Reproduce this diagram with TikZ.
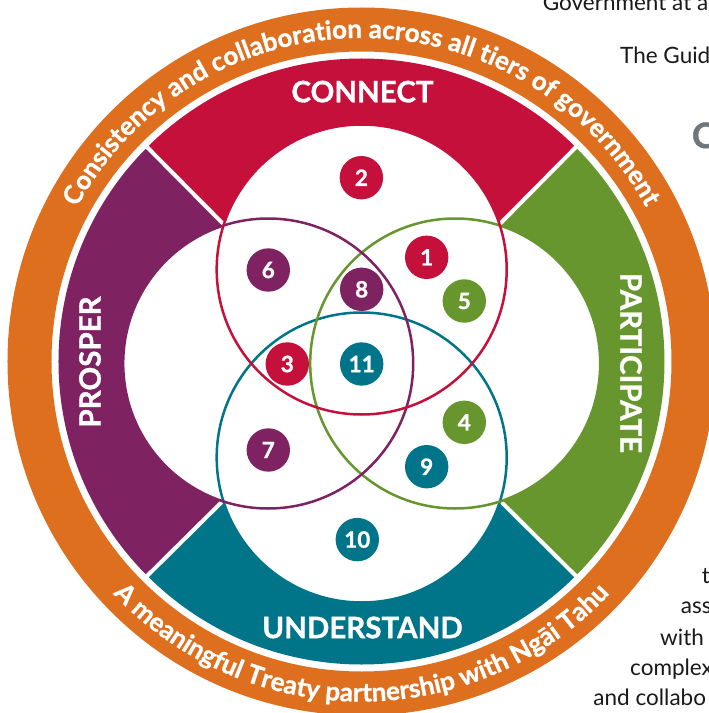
\documentclass[tikz,border=0pt]{standalone}
\usepackage{fontspec}
\setmainfont{Lato}[BoldFeatures={FakeBold=1}]
\usetikzlibrary{decorations.text}
\definecolor{cred}{HTML}{C4103A}
\definecolor{cpurple}{HTML}{7E2262}
\definecolor{cgreen}{HTML}{67962F}
\definecolor{cteal}{HTML}{00758A}
\definecolor{corange}{HTML}{DD6F1F}
\definecolor{cgrey}{HTML}{6E787C}
\definecolor{ctext}{HTML}{1A1A1A}
\newcommand\ringfont{\fontsize{26}{26}\selectfont\bfseries\color{white}}
\begin{document}
\begin{tikzpicture}[x=1pt,y=1pt,
  badge/.style={circle, fill=#1, text=white, minimum size=43.4pt, inner sep=0pt,
    font=\fontsize{22.5}{22.5}\selectfont\bfseries},
  bandlabel/.style={text=white, inner sep=0pt, font=\fontsize{29.5}{29.5}\selectfont\bfseries},
  venn/.style={draw=#1, line width=2.5pt},
  separator/.style={draw=white, line width=4pt},
  pagetext/.style={anchor=base west, inner sep=0pt, text=ctext, font=\fontsize{22.5}{22.5}\selectfont}]
\useasboundingbox (-361.5pt,-351.5pt) rectangle (347.5pt,361.5pt);
\clip (-361.5pt,-351.5pt) rectangle (347.5pt,361.5pt);
\fill[white] (-361.5pt,-351.5pt) rectangle (347.5pt,361.5pt);
% outer orange ring
\fill[corange, even odd rule] (0,0) circle[radius=354pt] (0,0) circle[radius=310pt];
% coloured sectors
\fill[cred] (0,0) -- (45:303pt) arc[start angle=45, end angle=135, radius=303pt] -- cycle;
\fill[cpurple] (0,0) -- (135:303pt) arc[start angle=135, end angle=225, radius=303pt] -- cycle;
\fill[cteal] (0,0) -- (225:303pt) arc[start angle=225, end angle=315, radius=303pt] -- cycle;
\fill[cgreen] (0,0) -- (315:303pt) arc[start angle=315, end angle=405, radius=303pt] -- cycle;
% Venn centres
\coordinate (vc) at (0.2pt,-2pt);
\coordinate (ctop) at (0.2pt,92pt);
\coordinate (cbot) at (0.2pt,-96pt);
\coordinate (cleft) at (-93.3pt,-2pt);
\coordinate (cright) at (93.7pt,-2pt);
% white interior
\fill[white] (ctop) circle[radius=145pt];
\fill[white] (cbot) circle[radius=145pt];
\fill[white] (cleft) circle[radius=145pt];
\fill[white] (cright) circle[radius=145pt];
% separators
\draw[separator] (vc) -- (45:308pt);
\draw[separator] (vc) -- (135:308pt);
\draw[separator] (vc) -- (225:308pt);
\draw[separator] (vc) -- (315:308pt);
% Venn outlines
\draw[venn=cteal] (cbot) circle[radius=145pt];
\draw[venn=cgreen] (cright) circle[radius=145pt];
\draw[venn=cpurple] (cleft) circle[radius=145pt];
\draw[venn=cred] (ctop) circle[radius=145pt];
% badges
\node[badge=cred] (b2) at (-0.1pt,183.8pt) {2};
\node[badge=cpurple] (b6) at (-93.2pt,91.5pt) {6};
\node[badge=cred] (b1) at (65.2pt,104.2pt) {1};
\node[badge=cpurple] (b8) at (0.2pt,72.2pt) {8};
\node[badge=cgreen] (b5) at (102.8pt,60.5pt) {5};
\node[badge=cred] (b3) at (-74.2pt,-2.5pt) {3};
\node[badge=cteal] (b11) at (0.2pt,-2.5pt) {11};
\node[badge=cgreen] (b4) at (102.8pt,-60.8pt) {4};
\node[badge=cpurple] (b7) at (-93.2pt,-88.5pt) {7};
\node[badge=cteal] (b9) at (65.2pt,-105.2pt) {9};
\node[badge=cteal] (b10) at (-4.2pt,-178.1pt) {10};
% band labels
\node[bandlabel] (connect) at (1pt,269.9pt) {CONNECT};
\node[bandlabel] (understand) at (1pt,-266pt) {UNDERSTAND};
\node[bandlabel, rotate=90] (prosper) at (-271.5pt,-0.5pt) {PROSPER};
\node[bandlabel, rotate=-90] (participate) at (269.5pt,-1.5pt) {PARTICIPATE};
% ring texts
\path[decorate, decoration={text along path, text align=center,
  text={|\ringfont|Consistency and collaboration across all tiers of government}}]
  (170:323.5pt) arc[start angle=170, end angle=10, radius=323.5pt];
\path[decorate, decoration={text along path, text align=center,
  text={|\ringfont|A meaningful Treaty partnership with Ngāi Tahu}}]
  (195:340pt) arc[start angle=195, end angle=345, radius=340pt];
% page text fragments
\node[pagetext] (p1) at (181.2pt,350.5pt) {Government at a};
\node[pagetext] (p2) at (258.5pt,298.2pt) {The Guid};
\node[pagetext, text=cgrey, font=\fontsize{35}{35}\selectfont\bfseries] (p3) at (330.2pt,213.5pt) {C};
\node[pagetext] (p4) at (340.2pt,-221.8pt) {t};
\node[pagetext] (p5) at (319.2pt,-251.8pt) {ass};
\node[pagetext] (p6) at (298.5pt,-283.5pt) {with};
\node[pagetext] (p7) at (268.5pt,-313.5pt) {complex};
\node[pagetext] (p8) at (231.8pt,-343.5pt) {and collabo};
\end{tikzpicture}
\end{document}
